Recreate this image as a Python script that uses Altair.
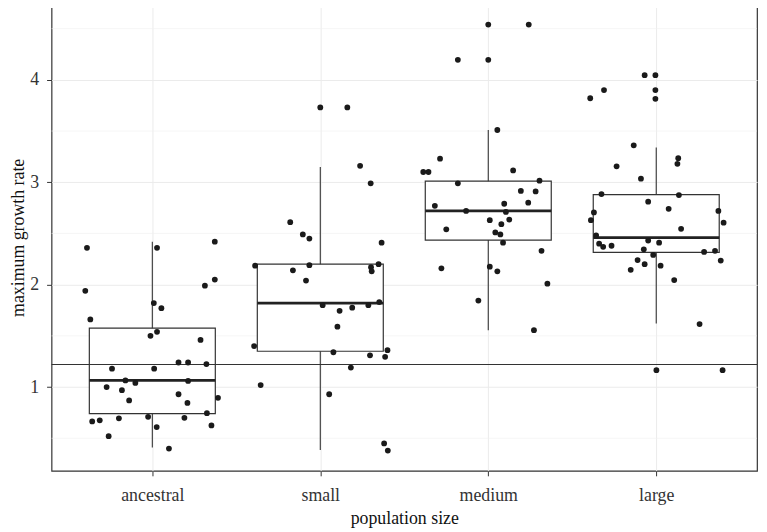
import altair as alt
import pandas as pd

categories = ["ancestral", "small", "medium", "large"]

# jittered observations: value and horizontal jitter (in category units)
ancestral_values = [2.36, 2.36, 2.42, 1.94, 2.05, 1.99, 1.82, 1.77, 1.66, 1.54, 1.50, 1.46,
                    1.24, 1.24, 1.225, 1.18, 1.18, 1.065, 1.04, 1.06, 1.00, 0.97, 0.93, 0.895,
                    0.87, 0.845, 0.745, 0.665, 0.675, 0.695, 0.71, 0.70, 0.61, 0.625, 0.52, 0.40]
ancestral_jitter = [-0.389, 0.028, 0.372, -0.399, 0.372, 0.313, 0.009, 0.054, -0.369, 0.028, -0.011, 0.287,
                    0.156, 0.213, 0.322, -0.240, 0.011, -0.160, -0.101, 0.213, -0.272, -0.181, 0.156, 0.391,
                    -0.138, 0.209, 0.325, -0.358, -0.313, -0.199, -0.025, 0.191, 0.026, 0.352, -0.260, 0.099]

small_values = [3.73, 3.73, 3.16, 2.99, 2.61, 2.49, 2.45, 2.41, 2.185, 2.19, 2.20, 2.17,
                2.13, 2.14, 2.04, 1.80, 1.745, 1.775, 1.80, 1.83, 1.59, 1.40, 1.34, 1.31,
                1.295, 1.36, 1.19, 1.02, 0.93, 0.45, 0.38]
small_jitter = [0.0, 0.161, 0.237, 0.300, -0.179, -0.104, -0.065, 0.365, -0.388, -0.065, 0.347, 0.302,
                0.306, -0.163, -0.085, 0.014, 0.115, 0.190, 0.286, 0.351, 0.102, -0.394, 0.078, 0.296,
                0.386, 0.400, 0.182, -0.355, 0.053, 0.380, 0.402]

medium_values = [4.54, 4.54, 4.195, 4.195, 3.51, 3.23, 3.10, 3.10, 3.115, 2.99, 3.015, 2.915,
                 2.91, 2.77, 2.79, 2.80, 2.72, 2.71, 2.63, 2.635, 2.59, 2.54, 2.51, 2.49,
                 2.41, 2.33, 2.16, 2.175, 2.13, 2.01, 1.845, 1.555]
medium_jitter = [0.0, 0.241, -0.181, 0.0, 0.054, -0.287, -0.387, -0.356, 0.148, -0.181, 0.305, 0.194,
                 0.282, -0.318, 0.095, 0.238, -0.132, 0.105, 0.009, 0.125, 0.078, -0.250, 0.042, 0.072,
                 0.088, 0.317, -0.279, 0.009, 0.054, 0.352, -0.059, 0.272]

large_values = [3.82, 3.90, 4.045, 4.045, 3.90, 3.815, 3.36, 3.235, 3.155, 3.18, 3.035, 2.885,
                2.875, 2.81, 2.74, 2.705, 2.72, 2.63, 2.605, 2.545, 2.48, 2.43, 2.41, 2.40,
                2.37, 2.38, 2.345, 2.32, 2.33, 2.29, 2.24, 2.20, 2.185, 2.235, 2.145, 2.045,
                1.615, 1.165, 1.165]
large_jitter = [-0.393, -0.311, -0.069, -0.005, -0.005, -0.005, -0.134, 0.131, -0.236, 0.126, -0.091, -0.326,
                0.135, -0.048, 0.074, -0.371, 0.370, -0.389, 0.401, 0.148, -0.358, -0.048, 0.017, -0.340,
                -0.316, -0.266, -0.074, 0.285, 0.350, -0.018, -0.111, -0.069, 0.026, 0.384, -0.152, 0.107,
                0.258, 0.001, 0.395]

# box statistics
box_low = [0.41, 0.385, 1.555, 1.62]
box_q1 = [0.74, 1.35, 2.435, 2.315]
box_median = [1.065, 1.82, 2.72, 2.46]
box_q3 = [1.575, 2.20, 3.01, 2.88]
box_high = [2.42, 3.15, 3.51, 3.34]

reference_value = 1.22
minor_grid = [0.5, 1.5, 2.5, 3.5, 4.5]

# ---------------------------------------------------------------- tables
groups = [
    (ancestral_values, ancestral_jitter),
    (small_values, small_jitter),
    (medium_values, medium_jitter),
    (large_values, large_jitter),
]
rows = []
for i, (vals, jit) in enumerate(groups):
    for v, j in zip(vals, jit):
        rows.append({"group": categories[i], "xpos": i + 1 + j, "value": v})
points_df = pd.DataFrame(rows)

half = 0.375
box_df = pd.DataFrame({
    "group": categories,
    "pos": [i + 1 for i in range(len(categories))],
    "left": [i + 1 - half for i in range(len(categories))],
    "right": [i + 1 + half for i in range(len(categories))],
    "low": box_low, "q1": box_q1, "median": box_median, "q3": box_q3, "high": box_high,
})
minor_df = pd.DataFrame({"y": minor_grid})
ref_df = pd.DataFrame({"y": [reference_value]})

label_expr = "[" + ",".join("'%s'" % c for c in categories) + "][round(datum.value) - 1]"

xscale = alt.Scale(domain=[0.4, 4.6], nice=False, zero=False)
yscale = alt.Scale(domain=[0.182, 4.742], nice=False, zero=False)
xaxis = alt.Axis(values=[1, 2, 3, 4], labelExpr=label_expr, grid=True,
                 title="population size", labelPadding=11, titlePadding=5)
yaxis = alt.Axis(values=[1, 2, 3, 4], grid=True, title="maximum growth rate",
                 labelPadding=8, titleX=-33, titleBaseline="middle")


def X(field):
    return alt.X(field, type="quantitative", scale=xscale, axis=xaxis, title="population size")


def Y(field):
    return alt.Y(field, type="quantitative", scale=yscale, axis=yaxis, title="maximum growth rate")


minor = alt.Chart(minor_df).mark_rule(color="#efefef", strokeWidth=0.6).encode(y=Y("y"))

whisk = alt.Chart(box_df).mark_rule(color="#333333", strokeWidth=1.1).encode(
    x=X("pos"), y=Y("low"), y2="high")

boxes = alt.Chart(box_df).mark_rect(fill="white", stroke="#333333", strokeWidth=1.2).encode(
    x=X("left"), x2="right", y=Y("q1"), y2="q3")

medians = alt.Chart(box_df).mark_rule(color="#222222", strokeWidth=2.8).encode(
    x=X("left"), x2="right", y=Y("median"))

refline = alt.Chart(ref_df).mark_rule(color="#333333", strokeWidth=1.1).encode(y=Y("y"))

pts = alt.Chart(points_df).mark_circle(size=34, color="#1a1a1a", opacity=1).encode(
    x=X("xpos"), y=Y("value"))

chart = alt.layer(minor, whisk, boxes, medians, refline, pts).properties(
    width=713, height=472,
    autosize=alt.AutoSizeParams(type="none"),
    padding={"left": 44, "top": -7, "right": 2, "bottom": 58},
).configure_view(
    stroke="#333333", strokeWidth=1.2
).configure_axis(
    labelFont="Liberation Serif", titleFont="Liberation Serif",
    labelFontSize=18, titleFontSize=18, labelColor="#333333", titleColor="#111111",
    titleFontWeight="normal", tickColor="#333333", tickSize=5, domain=False,
    gridColor="#ebebeb", gridWidth=1,
)

chart.save("out.html", embed_options={"renderer": "svg", "actions": False})
